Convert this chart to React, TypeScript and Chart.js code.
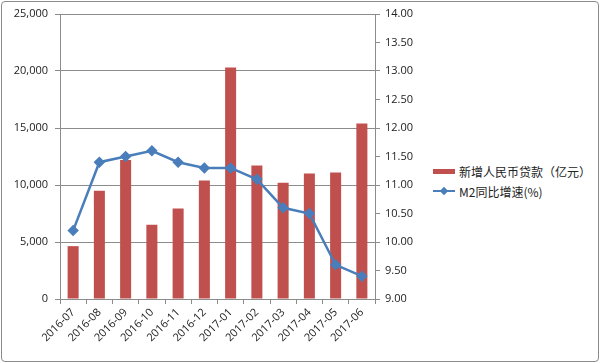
import React, { useEffect, useRef } from "react";
import { Chart, registerables } from "chart.js";

Chart.register(...registerables);

const categories = ["2016-07", "2016-08", "2016-09", "2016-10", "2016-11", "2016-12", "2017-01", "2017-02", "2017-03", "2017-04", "2017-05", "2017-06"];
const loans = [4636, 9487, 12200, 6513, 7946, 10400, 20300, 11700, 10200, 11000, 11100, 15400];
const m2 = [10.2, 11.4, 11.5, 11.6, 11.4, 11.3, 11.3, 11.1, 10.6, 10.5, 9.6, 9.4];
const loanLabel = "新增人民币贷款（亿元）";
const m2Label = "M2同比增速(%)";

const BAR = "#C0504D";
const LINE = "#4A7EBB";
const GRID = "#8C8C8C";
const FONT = "'Open Sans', 'Noto Sans CJK SC', sans-serif";

export default function App() {
  const ref = useRef<HTMLCanvasElement>(null);
  useEffect(() => {
    const chart = new Chart(ref.current!, {
      type: "bar",
      data: {
        labels: categories,
        datasets: [
          {
            type: "line",
            label: m2Label,
            data: m2,
            yAxisID: "y1",
            borderColor: LINE,
            backgroundColor: LINE,
            borderWidth: 2.5,
            pointStyle: "rectRot",
            pointRadius: 4,
            pointBackgroundColor: LINE,
            pointBorderColor: LINE,
            tension: 0,
            order: 0,
          },
          {
            type: "bar",
            label: loanLabel,
            data: loans,
            yAxisID: "y",
            backgroundColor: BAR,
            categoryPercentage: 1,
            barPercentage: 0.42,
            order: 1,
          },
        ],
      },
      options: {
        animation: false,
        responsive: false,
        maintainAspectRatio: false,
        layout: { padding: { top: 14, left: 0, right: 0, bottom: 0 } },
        plugins: { legend: { display: false }, tooltip: { enabled: false } },
        scales: {
          x: {
            offset: true,
            grid: { display: true, drawOnChartArea: false, drawTicks: true, tickLength: 5, color: GRID, offset: true },
            border: { display: true, color: GRID },
            ticks: { color: "#222", font: { family: FONT, size: 11 }, maxRotation: 45, minRotation: 45, padding: 2 },
            afterFit: (s: any) => { s.height = 64; },
          },
          y: {
            position: "left",
            min: 0,
            max: 25000,
            ticks: {
              stepSize: 5000,
              color: "#222",
              font: { family: FONT, size: 11 },
              padding: 7,
              callback: (v: any) => Number(v).toLocaleString("en-US"),
            },
            grid: { color: GRID, tickLength: 5, drawTicks: true },
            border: { display: true, color: GRID },
            afterFit: (s: any) => { s.width = 60; },
          },
          y1: {
            position: "right",
            min: 9,
            max: 14,
            ticks: {
              stepSize: 0.5,
              color: "#222",
              font: { family: FONT, size: 11 },
              padding: 5,
              callback: (v: any) => Number(v).toFixed(2),
            },
            grid: { drawOnChartArea: false, drawTicks: true, tickLength: 5, color: GRID },
            border: { display: true, color: GRID },
            afterFit: (s: any) => { s.width = 45; },
          },
        },
      },
    });
    return () => chart.destroy();
  }, []);

  return (
    <div style={{ position: "fixed", left: 0, top: 0, width: 600, height: 363, background: "#fff", overflow: "hidden" }}>
      <div style={{ position: "absolute", left: 1, top: 1, width: 596, height: 359, border: "1px solid #8a8a8a", borderRadius: 4 }} />
      <canvas ref={ref} width={420} height={363} style={{ position: "absolute", left: 0, top: 0 }} />
      <div style={{ position: "absolute", left: 433, top: 161, fontFamily: "'Noto Sans CJK SC', sans-serif", fontSize: 12, color: "#222" }}>
        <div style={{ display: "flex", alignItems: "center", height: 20 }}>
          <span style={{ display: "inline-block", width: 22, height: 5, background: BAR, marginRight: 4 }} />
          <span>{loanLabel}</span>
        </div>
        <div style={{ display: "flex", alignItems: "center", height: 20 }}>
          <span style={{ position: "relative", display: "inline-block", width: 22, height: 8, marginRight: 4 }}>
            <span style={{ position: "absolute", left: 0, top: 3, width: 22, height: 2, background: LINE }} />
            <span style={{ position: "absolute", left: 8, top: 1, width: 6, height: 6, background: LINE, transform: "rotate(45deg)" }} />
          </span>
          <span>{m2Label}</span>
        </div>
      </div>
    </div>
  );
}
